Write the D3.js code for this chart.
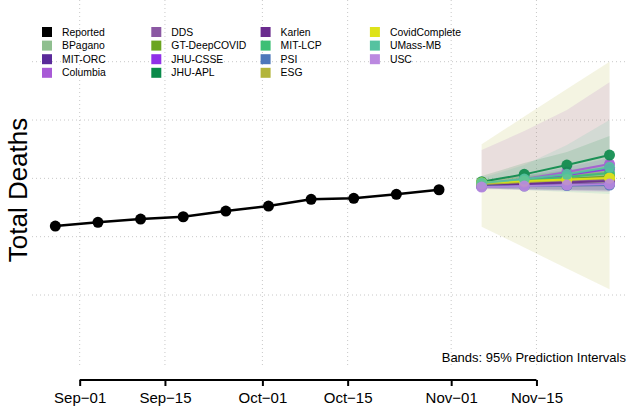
<!DOCTYPE html>
<html>
<head>
<meta charset="utf-8">
<script src="https://cdn.jsdelivr.net/npm/d3@7/dist/d3.min.js"></script>
<style>
  body { margin: 0; background: #fff; }
  svg { display: block; font-family: "Liberation Sans", Arial, sans-serif; }
  .grid line { stroke: #c8c8c8; stroke-dasharray: 1,3; stroke-width: 1; }
  .axis--x .tick line { stroke: #000; stroke-width: 2; }
  .axis--x text { font-size: 15px; fill: #000; }
</style>
</head>
<body>
<div id="chart"></div>
<script>
// Data
var reportedDates = ["2020-08-28", "2020-09-04", "2020-09-11", "2020-09-18", "2020-09-25",
                     "2020-10-02", "2020-10-09", "2020-10-16", "2020-10-23", "2020-10-30"];
var reportedValues = [6365, 6491, 6604, 6683, 6879, 7050, 7280, 7314, 7451, 7609];

var forecastDates = ["2020-11-06", "2020-11-13", "2020-11-20", "2020-11-27"];

var models = ["BPagano", "MIT-ORC", "Columbia", "DDS", "GT-DeepCOVID", "JHU-CSSE", "JHU-APL",
              "Karlen", "MIT-LCP", "PSI", "ESG", "CovidComplete", "UMass-MB", "USC"];
var modelColors = ["#8fbf8f", "#5a2a9a", "#a85ad6", "#8b58a3", "#6ba520", "#9030e8", "#0a8a4a",
                   "#6a2b8e", "#3cbf75", "#4d77ba", "#b3b53a", "#dee31a", "#55c2a0", "#bb88e0"];

var medians = [
  [7805, 7907, 8010, 8113],   // BPagano
  [7736, 7770, 7787, 7805],   // MIT-ORC
  [7805, 7976, 8216, 8490],   // Columbia
  [7770, 7839, 7907, 7976],   // DDS
  [7805, 7890, 7976, 8062],   // GT-DeepCOVID
  [7805, 7942, 8113, 8319],   // JHU-CSSE
  [7883, 8137, 8456, 8799],   // JHU-APL
  [7753, 7805, 7856, 7907],   // Karlen
  [7822, 7942, 8045, 8182],   // MIT-LCP
  [7719, 7736, 7753, 7770],   // PSI
  [7805, 7873, 7942, 8010],   // ESG
  [7849, 7907, 7959, 8010],   // CovidComplete
  [7839, 7976, 8137, 8377],   // UMass-MB
  [7702, 7736, 7770, 7805]    // USC
];
var lowers = [
  [7700, 7720, 7740, 7760],
  [7650, 7630, 7600, 7570],
  [7667, 7599, 7565, 7530],
  [7680, 7690, 7700, 7710],
  [7700, 7720, 7730, 7740],
  [7720, 7780, 7850, 7930],
  [7736, 7770, 7839, 7942],
  [7660, 7640, 7620, 7600],
  [7740, 7790, 7830, 7870],
  [7650, 7630, 7610, 7590],
  [6340, 5627, 4907, 4194],
  [7760, 7770, 7780, 7790],
  [7667, 7599, 7530, 7462],
  [7620, 7600, 7580, 7560]
];
var uppers = [
  [7910, 8100, 8290, 8480],
  [7820, 7910, 7980, 8050],
  [8970, 9622, 10342, 11292],
  [7860, 7990, 8120, 8250],
  [7900, 8060, 8220, 8380],
  [7890, 8100, 8380, 8700],
  [8079, 8525, 8902, 9450],
  [7850, 7980, 8110, 8240],
  [7900, 8100, 8270, 8500],
  [7790, 7840, 7900, 7960],
  [9166, 10119, 11062, 11998],
  [7940, 8050, 8150, 8250],
  [8010, 8456, 9142, 9999],
  [7790, 7880, 7960, 8050]
];

var xTickDates = ["2020-09-01", "2020-09-15", "2020-10-01", "2020-10-15", "2020-11-01", "2020-11-15"];
var yGridValues = [4000, 6000, 8000, 10000, 12000];

var width = 628, height = 408;
var parse = d3.utcParse("%Y-%m-%d");

var svg = d3.select("#chart").append("svg")
    .attr("width", width)
    .attr("height", height);

var xScale = d3.scaleUtc()
    .domain([parse("2020-08-20"), parse("2020-11-30")])
    .range([6.6, 627.8]);
var yScale = d3.scaleLinear()
    .domain([4000, 12000])
    .range([295, 61.7]);

var plotLeft = 32, plotRight = 628, plotTop = 0, plotBottom = 367;

// grid
var grid = svg.append("g").attr("class", "grid");
grid.selectAll("line.h")
    .data(yGridValues)
    .enter().append("line")
    .attr("class", "h")
    .attr("x1", plotLeft).attr("x2", plotRight)
    .attr("y1", function(d) { return yScale(d); })
    .attr("y2", function(d) { return yScale(d); });
grid.selectAll("line.v")
    .data(xTickDates)
    .enter().append("line")
    .attr("class", "v")
    .attr("x1", function(d) { return xScale(parse(d)); })
    .attr("x2", function(d) { return xScale(parse(d)); })
    .attr("y1", plotTop).attr("y2", plotBottom);

// bands
var area = d3.area()
    .x(function(d) { return xScale(d.date); })
    .y0(function(d) { return yScale(d.lo); })
    .y1(function(d) { return yScale(d.hi); });

models.forEach(function(m, i) {
    var pts = forecastDates.map(function(d, j) {
        return { date: parse(d), lo: lowers[i][j], hi: uppers[i][j] };
    });
    svg.append("path")
        .datum(pts)
        .attr("d", area)
        .attr("fill", modelColors[i])
        .attr("fill-opacity", 0.15)
        .attr("stroke", "none");
});

var line = d3.line()
    .x(function(d) { return xScale(d.date); })
    .y(function(d) { return yScale(d.v); });

// reported
var rep = reportedDates.map(function(d, i) { return { date: parse(d), v: reportedValues[i] }; });
svg.append("path")
    .datum(rep)
    .attr("d", line)
    .attr("fill", "none")
    .attr("stroke", "#000")
    .attr("stroke-width", 2.5);
svg.selectAll("circle.rep")
    .data(rep)
    .enter().append("circle")
    .attr("class", "rep")
    .attr("cx", function(d) { return xScale(d.date); })
    .attr("cy", function(d) { return yScale(d.v); })
    .attr("r", 5.5)
    .attr("fill", "#000");

// model medians
models.forEach(function(m, i) {
    var pts = forecastDates.map(function(d, j) { return { date: parse(d), v: medians[i][j] }; });
    var g = svg.append("g").attr("opacity", 0.9);
    g.append("path")
        .datum(pts)
        .attr("d", line)
        .attr("fill", "none")
        .attr("stroke", modelColors[i])
        .attr("stroke-width", 2);
    g.selectAll("circle")
        .data(pts)
        .enter().append("circle")
        .attr("cx", function(d) { return xScale(d.date); })
        .attr("cy", function(d) { return yScale(d.v); })
        .attr("r", 5.5)
        .attr("fill", modelColors[i]);
});

// x axis
var axisY = 380;
var fmt = d3.utcFormat("%b-%d");
var xAxis = d3.axisBottom(xScale)
    .tickValues(xTickDates.map(parse))
    .tickFormat(function(d) { return fmt(d).replace("-", "\u2212"); })
    .tickSize(6)
    .tickSizeOuter(0)
    .tickPadding(6);
var ax = svg.append("g")
    .attr("class", "axis axis--x")
    .attr("transform", "translate(0," + axisY + ")")
    .call(xAxis);
ax.select(".domain").remove();
ax.selectAll("text").attr("font-family", null).attr("font-size", null);
ax.append("line")
    .attr("x1", xScale(parse(xTickDates[0])))
    .attr("x2", xScale(parse(xTickDates[xTickDates.length - 1])))
    .attr("stroke", "#000")
    .attr("stroke-width", 2);

// y label
svg.append("text")
    .attr("transform", "translate(27,190) rotate(-90)")
    .attr("text-anchor", "middle")
    .attr("font-size", 26)
    .text("Total Deaths");

// bands note
svg.append("text")
    .attr("x", 626)
    .attr("y", 362)
    .attr("text-anchor", "end")
    .attr("font-size", 13)
    .text("Bands: 95% Prediction Intervals");

// legend
var legendNames = ["Reported"].concat(models);
var legendColors = ["#000000"].concat(modelColors);
var legend = svg.append("g").attr("class", "legend");
legendNames.forEach(function(name, i) {
    var col = Math.floor(i / 4), row = i % 4;
    var lx = 42 + col * 109.3, ly = 32 + row * 13.6;
    legend.append("rect")
        .attr("x", lx).attr("y", ly - 5)
        .attr("width", 10).attr("height", 10)
        .attr("fill", legendColors[i]);
    legend.append("text")
        .attr("x", lx + 20).attr("y", ly)
        .attr("dy", "0.35em")
        .attr("font-size", 10.4)
        .text(name);
});
</script>
</body>
</html>
